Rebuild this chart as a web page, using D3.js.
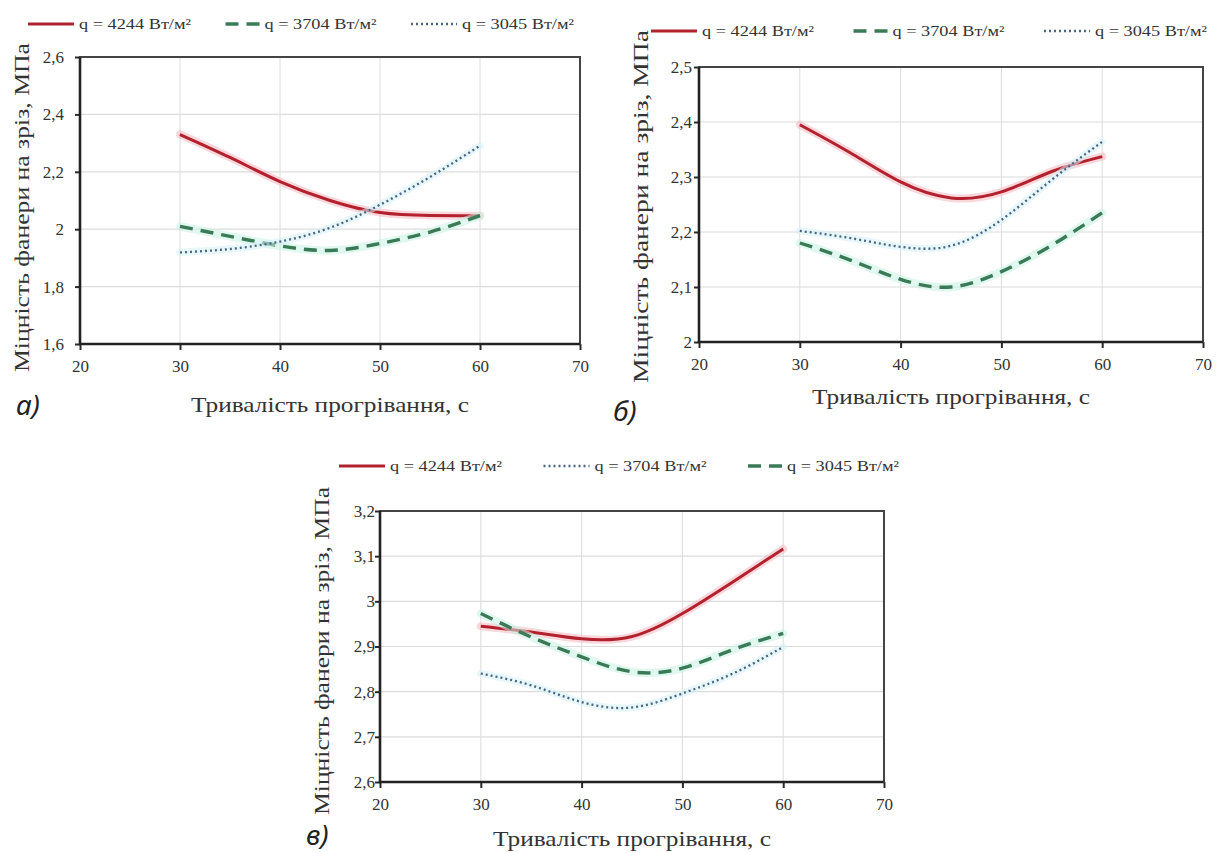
<!DOCTYPE html>
<html>
<head>
<meta charset="utf-8">
<script src="https://cdn.jsdelivr.net/npm/d3@7"></script>
<style>
body { margin: 0; background: #fff; }
svg { display: block; }
</style>
</head>
<body>
<svg id="svg" width="1216" height="853"></svg>
<script>
// тривалість прогрівання, с
const xs = [30, 35, 40, 45, 50, 55, 60];
const xTicks = [20, 30, 40, 50, 60, 70];

const q4244 = "q = 4244 Вт/м²";
const q3704 = "q = 3704 Вт/м²";
const q3045 = "q = 3045 Вт/м²";

// панель а)
const a4244 = [2.33, 2.25, 2.166, 2.10, 2.058, 2.048, 2.047];
const a3704 = [2.01, 1.975, 1.942, 1.926, 1.95, 1.99, 2.047];
const a3045 = [1.919, 1.931, 1.957, 2.005, 2.085, 2.182, 2.291];
const yTicksA = [1.6, 1.8, 2.0, 2.2, 2.4, 2.6];

// панель б)
const b4244 = [2.395, 2.344, 2.291, 2.262, 2.273, 2.31, 2.337];
const b3704 = [2.18, 2.149, 2.114, 2.10, 2.128, 2.176, 2.235];
const b3045 = [2.202, 2.189, 2.173, 2.175, 2.222, 2.295, 2.364];
const yTicksB = [2.0, 2.1, 2.2, 2.3, 2.4, 2.5];

// панель в)
const c4244 = [2.945, 2.932, 2.917, 2.922, 2.973, 3.043, 3.116];
const c3704 = [2.840, 2.814, 2.777, 2.765, 2.796, 2.84, 2.899];
const c3045 = [2.973, 2.921, 2.877, 2.844, 2.852, 2.893, 2.929];
const yTicksC = [2.6, 2.7, 2.8, 2.9, 3.0, 3.1, 3.2];

const xTitle = "Тривалість прогрівання, с";
const yTitle = "Міцність фанери на зріз, МПа";

const styles = {
    solid:  {color: "#b3212e", halo: "#f4b6bd", width: 3, dash: null, len: 46},
    dashed: {color: "#3a7a56", halo: "#c9f2e4", width: 3.4, dash: "13,8", len: 34},
    dotted: {color: "#4a6482", halo: "#d4f1f5", width: 2.3, dash: "2,3", len: 46}
};

const panels = [
    {label: "а)", x0: 80, x1: 580, y0: 57, y1: 344, yTicks: yTicksA,
     legY: 24, legX0: 28, legX1: 574, tickGap: 16,
     yTitleX: 22, yTitleTop: 43, yTitleBot: 372, xTitleBase: 412,
     labX: 16, labY: 415,
     series: [[q4244, a4244, "solid"], [q3704, a3704, "dashed"], [q3045, a3045, "dotted"]]},
    {label: "б)", x0: 699, x1: 1203, y0: 67, y1: 342, yTicks: yTicksB,
     legY: 31, legX0: 651, legX1: 1207, tickGap: 7,
     yTitleX: 641, yTitleTop: 30, yTitleBot: 383, xTitleBase: 404,
     labX: 613, labY: 421,
     series: [[q4244, b4244, "solid"], [q3704, b3704, "dashed"], [q3045, b3045, "dotted"]]},
    {label: "в)", x0: 380, x1: 884, y0: 511, y1: 782, yTicks: yTicksC,
     legY: 466, legX0: 339, legX1: 899, tickGap: 5,
     yTitleX: 322, yTitleTop: 487, yTitleBot: 815, xTitleBase: 846,
     labX: 306, labY: 845,
     series: [[q4244, c4244, "solid"], [q3704, c3704, "dotted"], [q3045, c3045, "dashed"]]}
];

const svg = d3.select("#svg");
const serif = "'Liberation Serif', 'Times New Roman', serif";
const fmt = v => d3.format("~g")(v).replace(".", ",");

panels.forEach(p => {
    const g = svg.append("g");
    const xScale = d3.scaleLinear().domain([20, 70]).range([p.x0, p.x1]);
    const yScale = d3.scaleLinear().domain(d3.extent(p.yTicks)).range([p.y1, p.y0]);

    // сітка
    g.append("g").selectAll("line").data(xTicks.slice(1, -1)).join("line")
        .attr("x1", d => xScale(d)).attr("x2", d => xScale(d))
        .attr("y1", p.y0).attr("y2", p.y1)
        .attr("stroke", "#dcdcdc").attr("stroke-width", 1);
    g.append("g").selectAll("line").data(p.yTicks.slice(1, -1)).join("line")
        .attr("x1", p.x0).attr("x2", p.x1)
        .attr("y1", d => yScale(d)).attr("y2", d => yScale(d))
        .attr("stroke", "#dcdcdc").attr("stroke-width", 1.2);

    // осі
    const xAxis = g.append("g")
        .attr("transform", `translate(0, ${p.y1})`)
        .call(d3.axisBottom(xScale).tickValues(xTicks).tickSize(6).tickPadding(10).tickFormat(d3.format("d")));
    const yAxis = g.append("g")
        .attr("transform", `translate(${p.x0}, 0)`)
        .call(d3.axisLeft(yScale).tickValues(p.yTicks).tickSize(5).tickPadding(p.tickGap - 5).tickFormat(fmt));
    [xAxis, yAxis].forEach(ax => {
        ax.attr("font-family", serif).attr("font-size", 17);
        ax.select(".domain").remove();
        ax.selectAll(".tick line").attr("stroke", "#2a2a2a").attr("stroke-width", 2);
        ax.selectAll(".tick text")
            .style("font-family", serif).style("font-size", "17px")
            .attr("fill", "#333");
    });
    xAxis.selectAll(".tick text").attr("dy", "0.71em");

    // рамка
    g.append("rect")
        .attr("x", p.x0).attr("y", p.y0)
        .attr("width", p.x1 - p.x0).attr("height", p.y1 - p.y0)
        .attr("fill", "none").attr("stroke", "#444").attr("stroke-width", 2);
    g.append("path")
        .attr("d", `M${p.x0},${p.y0}V${p.y1}H${p.x1}`)
        .attr("fill", "none").attr("stroke", "#222").attr("stroke-width", 2.6);

    // криві
    const line = d3.line()
        .x((d, i) => xScale(xs[i]))
        .y(d => yScale(d))
        .curve(d3.curveNatural);
    p.series.forEach(([name, vals, st]) => {
        const s = styles[st];
        g.append("path").datum(vals)
            .attr("fill", "none").attr("stroke", s.halo).attr("stroke-opacity", 0.55)
            .attr("stroke-width", s.width + 5).attr("stroke-linecap", "round")
            .attr("d", line);
        g.append("path").datum(vals)
            .attr("fill", "none").attr("stroke", s.color)
            .attr("stroke-width", s.width)
            .attr("stroke-dasharray", s.dash)
            .attr("d", line);
    });

    // легенда
    const textW = 112, pad = 5;
    const lens = p.series.map(d => styles[d[2]].len);
    const gap = (p.legX1 - p.legX0 - d3.sum(lens) - 3 * (pad + textW)) / 2;
    let cx = p.legX0;
    p.series.forEach(([name, vals, st], i) => {
        const s = styles[st];
        g.append("line")
            .attr("x1", cx).attr("x2", cx + s.len)
            .attr("y1", p.legY).attr("y2", p.legY)
            .attr("stroke", s.color).attr("stroke-width", s.width)
            .attr("stroke-dasharray", s.dash);
        g.append("text")
            .attr("x", cx + s.len + pad).attr("y", p.legY + 5)
            .attr("font-family", serif).attr("font-size", 15).attr("fill", "#333")
            .attr("textLength", textW).attr("lengthAdjust", "spacingAndGlyphs")
            .text(name);
        cx += s.len + pad + textW + gap;
    });

    // підписи осей
    g.append("text")
        .attr("x", (p.x0 + p.x1) / 2).attr("y", p.xTitleBase)
        .attr("text-anchor", "middle")
        .attr("font-family", serif).attr("font-size", 21).attr("fill", "#333")
        .attr("textLength", 278).attr("lengthAdjust", "spacingAndGlyphs")
        .text(xTitle);
    const ty = (p.yTitleTop + p.yTitleBot) / 2;
    g.append("text")
        .attr("transform", `translate(${p.yTitleX}, ${ty}) rotate(-90)`)
        .attr("text-anchor", "middle").attr("dominant-baseline", "central")
        .attr("font-family", serif).attr("font-size", 21).attr("fill", "#333")
        .attr("textLength", p.yTitleBot - p.yTitleTop).attr("lengthAdjust", "spacingAndGlyphs")
        .text(yTitle);

    // літера панелі
    g.append("text")
        .attr("x", p.labX).attr("y", p.labY)
        .attr("font-family", "'Noto Sans', 'DejaVu Sans', sans-serif")
        .attr("font-style", "italic").attr("font-size", 28).attr("fill", "#222")
        .text(p.label);
});
</script>
</body>
</html>
